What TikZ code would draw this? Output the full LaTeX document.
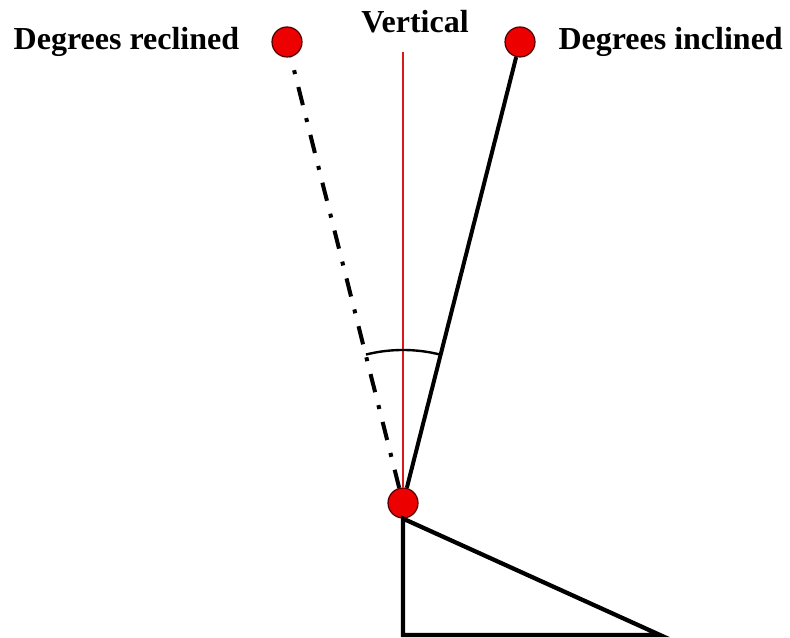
\documentclass[tikz,border=0pt]{standalone}
\usepackage{fontspec}
\setmainfont{Liberation Serif}
\usepackage{tikz}
\usetikzlibrary{positioning}
\definecolor{dotred}{rgb}{0.93, 0.0, 0.0}
\definecolor{vertred}{rgb}{0.85, 0.1, 0.1}

\begin{document}
\begin{tikzpicture}[
			x=0.75pt, y=0.75pt,
			every node/.style={font=\fontsize{24}{28}\selectfont\bfseries},
			joint/.style={circle, fill=dotred, draw=black!70!red, line width=0.9pt, minimum size=22.5pt, inner sep=0pt},
			label/.style={inner sep=2pt},
			limb/.style={line width=3pt, black},
			reclinestyle/.style={line width=3pt, dash pattern=on 14pt off 10pt on 3pt off 10pt}
		]
		\useasboundingbox (0,0) rectangle (790,638);
		% points
		\node[joint] (pivot) at (403,135) {};
		\node[joint] (recl) at (287,596) {};
		\node[joint] (incl) at (520,596) {};
		\coordinate (vtop) at (403,586);
		\coordinate (base) at (403,3);
		\coordinate (toe) at (660,3);
		% texts
		\node[label, left=22pt of recl] (recltext) {Degrees reclined};
		\node[label, right=15pt of incl] (incltext) {Degrees inclined};
		\node[label] (verttext) at (415,616) {Vertical};
		% lines
		\draw[vertred, line width=1.5pt] (vtop) -- (pivot);
		\draw[reclinestyle] (pivot) -- (recl);
		\draw[limb] (pivot) -- (incl);
		\draw[line width=1.8pt] ([shift={(104:153)}]pivot.center) arc[start angle=104, end angle=76, radius=153];
		\draw[limb, line width=3.2pt] (pivot.south) -- (base) -- (toe) -- cycle;
	\end{tikzpicture}
\end{document}
